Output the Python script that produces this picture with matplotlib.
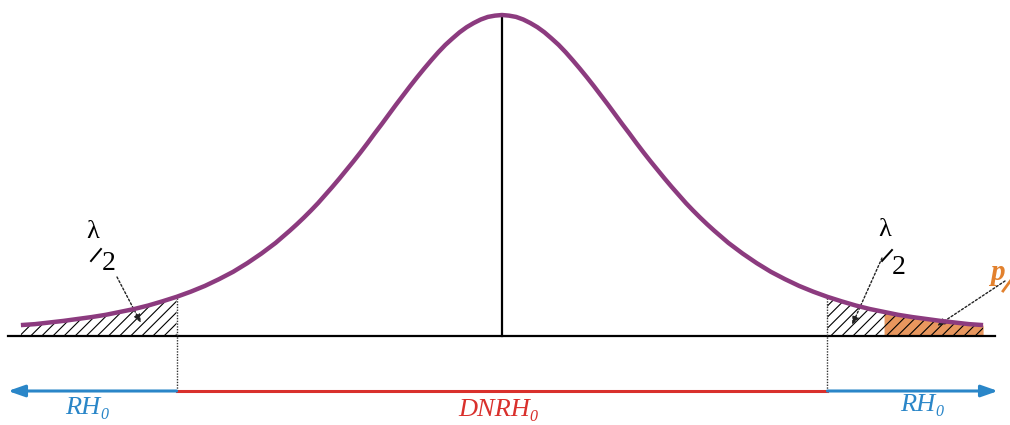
import numpy as np
import matplotlib
matplotlib.use("Agg")
import matplotlib.pyplot as plt
from matplotlib.transforms import offset_copy

# density heights (peak = 1), from the centre outwards
u_half = [0.0, 0.05, 0.1, 0.15, 0.2, 0.25, 0.3, 0.35, 0.4, 0.45, 0.5, 0.55,
          0.6, 0.65, 0.7, 0.75, 0.8, 0.85, 0.9, 0.95, 1.0, 1.05, 1.1, 1.15,
          1.2, 1.25, 1.3, 1.35, 1.4, 1.45, 1.5, 1.6, 1.7, 1.8, 1.9, 2.0,
          2.1, 2.2, 2.3, 2.4, 2.5, 2.6, 2.7, 2.8, 2.9, 3.0, 3.1, 3.2, 3.3, 3.4]
h_half = [1.000, 0.998, 0.994, 0.986, 0.975, 0.962, 0.946, 0.927, 0.907,
          0.884, 0.859, 0.833, 0.806, 0.778, 0.749, 0.720, 0.690, 0.660,
          0.631, 0.601, 0.572, 0.544, 0.517, 0.490, 0.464, 0.439, 0.414,
          0.391, 0.369, 0.348, 0.328, 0.290, 0.257, 0.227, 0.200, 0.177,
          0.156, 0.138, 0.122, 0.108, 0.095, 0.084, 0.075, 0.066, 0.059,
          0.053, 0.047, 0.042, 0.037, 0.034]
crit = 2.3      # critical value (lambda/2 tails)
p_start = 2.7   # start of p/2 region

x = np.array([-u for u in u_half[::-1]] + u_half[1:])
y = np.array(h_half[::-1] + h_half[1:])

plt.rcParams['hatch.color'] = '#3a3a3a'
plt.rcParams['hatch.linewidth'] = 0.8

W, H = 1010, 425
fig = plt.figure(figsize=(W / 100, H / 100), dpi=100)
ax = fig.add_axes([0, 0, 1, 1])
X0, SX, Y0, SY = 502, 141.5, 336, 321
ax.set_xlim((0 - X0) / SX, (W - X0) / SX)
ax.set_ylim((Y0 - H) / SY, Y0 / SY)
ax.axis('off')


def px(a, b):
    return (a - X0) / SX, (Y0 - b) / SY


purple = '#8c3b7f'
blue = '#2a86c8'
red = '#d9302c'
orange = '#e2812e'

# tails
left = x <= -crit + 1e-9
right = x >= crit - 1e-9
orng = x >= p_start - 1e-9
ax.fill_between(x, 0, y, where=orng, color='#e8975e', lw=0, zorder=1)
ax.fill_between(x, 0, y, where=left, facecolor='none', hatch='///', lw=0, zorder=2)
ax.fill_between(x, 0, y, where=right, facecolor='none', hatch='///', lw=0, zorder=2)

# baseline and centre line
bx0, _ = px(8, 0)
bx1, _ = px(995, 0)
ax.plot([bx0, bx1], [0, 0], color='black', lw=1.6, zorder=3)
ax.plot([0, 0], [0, max(h_half)], color='black', lw=1.6, zorder=3)

# curve
ax.plot(x, y, color=purple, lw=3.2, solid_capstyle='butt', zorder=4)

# dotted verticals at critical values
_, ya = px(0, 391)
hc = h_half[u_half.index(crit)]
for s in (-1, 1):
    ax.plot([s * crit, s * crit], [ya, hc], color='#333333', lw=1.0,
            ls=(0, (1, 1)), zorder=3)

# bottom arrows
xl, _ = px(8, 0)
xr, _ = px(998, 0)
ax.plot([-crit, crit], [ya, ya], color=red, lw=2.2, zorder=3)
ax.annotate('', xy=(xl, ya), xytext=(-crit, ya),
            arrowprops=dict(arrowstyle='-|>,head_length=1.0,head_width=0.35',
                            color=blue, lw=2.2, shrinkA=0, shrinkB=0))
ax.annotate('', xy=(xr, ya), xytext=(crit, ya),
            arrowprops=dict(arrowstyle='-|>,head_length=1.0,head_width=0.35',
                            color=blue, lw=2.2, shrinkA=0, shrinkB=0))

# region labels, italic with an italic subscript 0
renderer = fig.canvas.get_renderer()
for txt, pos, col in [('RH', (65, 414), blue), ('DNRH', (458, 416), red),
                      ('RH', (900, 411), blue)]:
    t = ax.text(*px(*pos), txt, color=col, fontsize=19, ha='left',
                va='baseline', family='Liberation Serif', style='italic')
    w = t.get_window_extent(renderer).width * 72 / fig.dpi
    ax.text(*px(*pos), '0', color=col, fontsize=11.5, ha='left', va='baseline',
            family='Liberation Serif', style='italic',
            transform=offset_copy(ax.transData, fig=fig, x=w, y=-3.5,
                                  units='points'))

# lambda/2 labels: (lambda centre, slash start, slash end, "2" centre)
for lam, s0, s1, two in [((92.5, 232), (91, 261), (101, 249), (108.5, 264)),
                         ((885, 230), (882, 261), (892, 250), (899, 267))]:
    ax.text(*px(*lam), '\u03bb', fontsize=19, ha='center', va='center',
            family='Liberation Serif')
    ax.plot(*zip(px(*s0), px(*s1)), color='black', lw=1.4)
    ax.text(*px(*two), '2', fontsize=20, ha='center', va='center',
            family='Liberation Serif')

# p/2 label (runs off the right edge)
ax.text(*px(997, 272), 'p', fontsize=21, ha='center', va='center',
        family='Liberation Serif', style='italic', weight='bold', color=orange)
ax.plot(*zip(px(1003, 291), px(1011, 280)), color=orange, lw=2.0)

# leader arrows
arrow_kw = dict(arrowstyle='-|>,head_length=0.5,head_width=0.2',
                color='#222222', lw=1.0, ls=(0, (1.5, 1.5)),
                shrinkA=0, shrinkB=0)
ax.annotate('', xy=px(141, 323), xytext=px(117, 277), arrowprops=arrow_kw)
ax.annotate('', xy=px(852, 325), xytext=px(882, 258), arrowprops=arrow_kw)
ax.annotate('', xy=px(937, 326), xytext=px(1005, 281), arrowprops=arrow_kw)

fig.savefig('out.png', dpi=100)
